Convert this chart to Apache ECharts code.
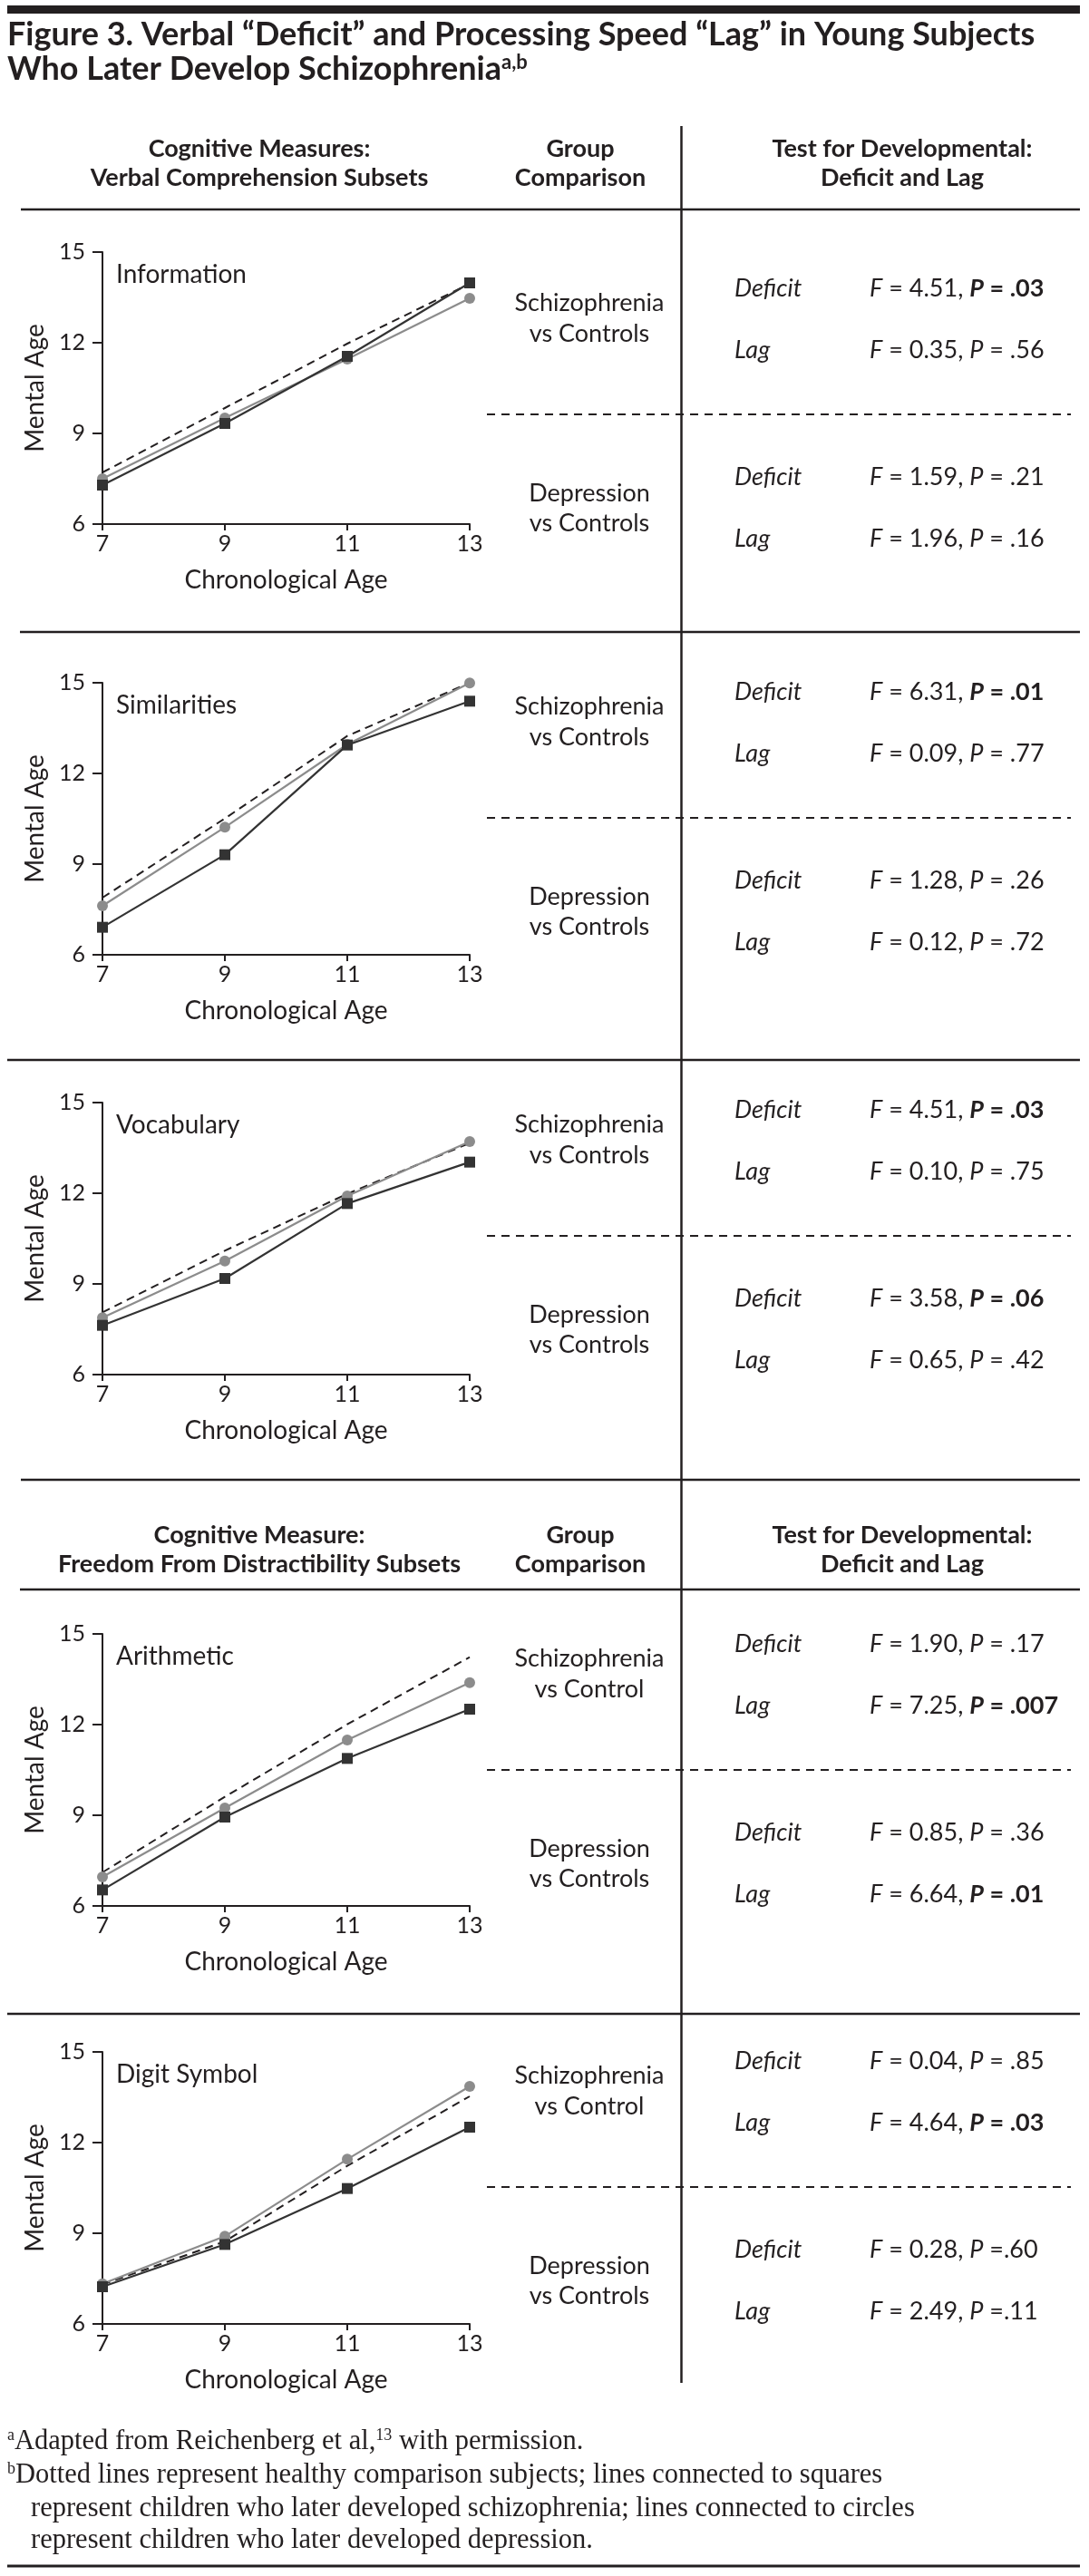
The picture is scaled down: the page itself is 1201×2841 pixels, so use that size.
<!DOCTYPE html>
<html><head><meta charset="utf-8">
<script src="https://cdn.jsdelivr.net/npm/echarts@6/dist/echarts.min.js"></script>
<style>html,body{margin:0;padding:0;background:#fff}#c{width:1201px;height:2841px}</style>
</head><body><div id="c"></div>
<script>
// ---------- data ----------
const ages = [7, 9, 11, 13];
const yTicks = [6, 9, 12, 15];
const measures = ['Information', 'Similarities', 'Vocabulary', 'Arithmetic', 'Digit Symbol'];
const schizophreniaValues = [
  [7.29, 9.33, 11.55, 13.98],
  [6.91, 9.31, 12.94, 14.39],
  [7.63, 9.18, 11.66, 13.03],
  [6.53, 8.94, 10.88, 12.51],
  [7.23, 8.63, 10.48, 12.51]
];
const depressionValues = [
  [7.50, 9.51, 11.46, 13.47],
  [7.62, 10.22, 12.96, 14.99],
  [7.88, 9.76, 11.91, 13.71],
  [6.96, 9.24, 11.49, 13.39],
  [7.33, 8.90, 11.45, 13.86]
];
const controlValues = [
  [7.71, 9.84, 11.97, 13.95],
  [7.89, 10.51, 13.24, 15.00],
  [8.06, 10.10, 11.98, 13.66],
  [7.11, 9.61, 12.01, 14.23],
  [7.30, 8.73, 11.23, 13.53]
];
const schizComparison = ['Schizophrenia\nvs Controls', 'Schizophrenia\nvs Controls', 'Schizophrenia\nvs Controls', 'Schizophrenia\nvs Control', 'Schizophrenia\nvs Control'];
const deprComparison = ['Depression\nvs Controls', 'Depression\nvs Controls', 'Depression\nvs Controls', 'Depression\nvs Controls', 'Depression\nvs Controls'];
const schizDeficitF = ['4.51', '6.31', '4.51', '1.90', '0.04'];
const schizDeficitP = ['.03', '.01', '.03', '.17', '.85'];
const schizLagF = ['0.35', '0.09', '0.10', '7.25', '4.64'];
const schizLagP = ['.56', '.77', '.75', '.007', '.03'];
const deprDeficitF = ['1.59', '1.28', '3.58', '0.85', '0.28'];
const deprDeficitP = ['.21', '.26', '.06', '.36', '.60'];
const deprLagF = ['1.96', '0.12', '0.65', '6.64', '2.49'];
const deprLagP = ['.16', '.72', '.42', '.01', '.11'];
const pEquals = [' = ', ' = ', ' = ', ' = ', ' ='];
const titleLines = ['Figure 3. Verbal \u201cDeficit\u201d and Processing Speed \u201cLag\u201d in Young Subjects', 'Who Later Develop Schizophrenia'];
const headerBlocks = [
  ['Cognitive Measures:', 'Verbal Comprehension Subsets'],
  ['Cognitive Measure:', 'Freedom From Distractibility Subsets']
];
const groupHeader = ['Group', 'Comparison'];
const testHeader = ['Test for Developmental:', 'Deficit and Lag'];

// ---------- layout ----------
const SANS = 'Lato';
const INK = '#231f20';
const gridTop = [278, 753, 1216, 1802, 2263];
const dashY = [457, 902, 1363, 1952, 2412];
const ruleLines = [[231, 23], [697, 22], [1169, 8], [1632, 23], [1753, 22], [2221, 8]];
const headerBase = [173, 1702];

const chart = echarts.init(document.getElementById('c'), null, {renderer: 'canvas'});
const graphics = [];
function text(x, base, str, size, opt) {
  opt = opt || {};
  graphics.push({
    type: 'text', z: 10,
    style: Object.assign({
      x: x, y: base - 0.33 * size, text: str,
      fontFamily: opt.family || SANS, fontSize: size,
      fontWeight: opt.weight || 'normal', fontStyle: opt.style || 'normal',
      fill: INK, align: opt.align || 'left', verticalAlign: 'middle'
    }, opt.extra || {})
  });
}
function hline(y, x0, x1, w, dash) {
  graphics.push({type: 'line', z: 5, shape: {x1: x0, y1: y, x2: x1, y2: y},
    style: {stroke: INK, lineWidth: w, lineDash: dash || null}});
}

// top bar
graphics.push({type: 'rect', shape: {x: 8, y: 6, width: 1183, height: 9}, style: {fill: INK}});
// title
const TS = 36;
text(8, 50, titleLines[0], TS, {weight: 'bold'});
graphics.push({type: 'text', z: 10, style: {
  x: 8, y: 88 - 0.33 * TS, verticalAlign: 'middle', fill: INK,
  text: titleLines[1] + '{sup|a,b}', fontFamily: SANS, fontSize: TS, fontWeight: 'bold',
  rich: {sup: {fontSize: 22, fontWeight: 'bold', fontFamily: SANS, fill: INK, verticalAlign: 'top', lineHeight: TS}}
}});
// headers
headerBlocks.forEach(function (blk, k) {
  const b = headerBase[k];
  text(286, b, blk[0], 27, {weight: 'bold', align: 'center'});
  text(286, b + 32, blk[1], 27, {weight: 'bold', align: 'center'});
  text(640, b, groupHeader[0], 27, {weight: 'bold', align: 'center'});
  text(640, b + 32, groupHeader[1], 27, {weight: 'bold', align: 'center'});
  text(995, b, testHeader[0], 27, {weight: 'bold', align: 'center'});
  text(995, b + 32, testHeader[1], 27, {weight: 'bold', align: 'center'});
});
// rules
ruleLines.forEach(function (r) { hline(r[0], r[1], 1191, 2.5); });
// vertical divider
graphics.push({type: 'line', z: 5, shape: {x1: 751.5, y1: 139, x2: 751.5, y2: 2628}, style: {stroke: INK, lineWidth: 2.5}});
// bottom rule
hline(2830, 8, 1191, 3);

function stat(x, base, f, p, sep) {
  const bold = parseFloat(p) < 0.1;
  const str = '{i|F} = ' + f + ', ' + (bold ? '{bi|P}{b|' + sep + p + '}' : '{i|P}' + sep + p);
  graphics.push({type: 'text', z: 10, style: {
    x: x, y: base - 0.33 * 27, verticalAlign: 'middle', fill: INK, text: str,
    fontFamily: SANS, fontSize: 27,
    rich: {
      i: {fontStyle: 'italic', fontFamily: SANS, fontSize: 27, fill: INK},
      bi: {fontStyle: 'italic', fontWeight: 'bold', fontFamily: SANS, fontSize: 27, fill: INK},
      b: {fontWeight: 'bold', fontFamily: SANS, fontSize: 27, fill: INK}
    }
  }});
}

measures.forEach(function (m, i) {
  const d = dashY[i];
  hline(d, 537, 1181, 2, [9, 7]);
  // measure label
  text(128, gridTop[i] + 34, m, 28);
  // group labels
  const s = schizComparison[i].split('\n');
  text(650, d - 114, s[0], 27, {align: 'center'});
  text(650, d - 80, s[1], 27, {align: 'center'});
  const dp = deprComparison[i].split('\n');
  text(650, d + 96, dp[0], 27, {align: 'center'});
  text(650, d + 129, dp[1], 27, {align: 'center'});
  text(810, d - 130, 'Deficit', 27, {style: 'italic'});
  text(810, d - 62, 'Lag', 27, {style: 'italic'});
  text(810, d + 78, 'Deficit', 27, {style: 'italic'});
  text(810, d + 146, 'Lag', 27, {style: 'italic'});
  stat(959, d - 130, schizDeficitF[i], schizDeficitP[i], ' = ');
  stat(959, d - 62, schizLagF[i], schizLagP[i], ' = ');
  stat(959, d + 78, deprDeficitF[i], deprDeficitP[i], pEquals[i]);
  stat(959, d + 146, deprLagF[i], deprLagP[i], pEquals[i]);
});

// footnotes
const SERIF = 'Liberation Serif';
const FS = 30.5;
const fnRich = {sup: {fontSize: 18, fontFamily: SERIF, fill: INK, verticalAlign: 'top', lineHeight: FS}};
function fn(x, base, str) {
  graphics.push({type: 'text', z: 10, style: {
    x: x, y: base - 0.33 * FS, verticalAlign: 'middle', fill: INK, text: str,
    fontFamily: SERIF, fontSize: FS, rich: fnRich}});
}
fn(8, 2703, '{sup|a}Adapted from Reichenberg et al,{sup|13} with permission.');
fn(8, 2740, '{sup|b}Dotted lines represent healthy comparison subjects; lines connected to squares');
fn(34, 2777, 'represent children who later developed schizophrenia; lines connected to circles');
fn(34, 2812, 'represent children who later developed depression.');

// ---------- charts ----------
const axisLine = {show: true, lineStyle: {color: INK, width: 2}};
const grids = [], xAxes = [], yAxes = [], series = [];
measures.forEach(function (m, i) {
  grids.push({left: 113, top: gridTop[i], width: 405, height: 300});
  xAxes.push({gridIndex: i, type: 'value', min: ages[0], max: ages[ages.length - 1], interval: 2,
    axisLine: axisLine, axisTick: {show: true, length: 7, lineStyle: {color: INK, width: 2}},
    splitLine: {show: false},
    axisLabel: {fontFamily: SANS, fontSize: 25, color: INK, margin: 9},
    name: 'Chronological Age', nameLocation: 'middle', nameGap: 48,
    nameTextStyle: {fontFamily: SANS, fontSize: 28, color: INK}});
  yAxes.push({gridIndex: i, type: 'value', min: yTicks[0], max: yTicks[yTicks.length - 1], interval: 3,
    axisLine: axisLine, axisTick: {show: true, length: 11, lineStyle: {color: INK, width: 2}},
    splitLine: {show: false},
    axisLabel: {fontFamily: SANS, fontSize: 25, color: INK, margin: 19},
    name: 'Mental Age', nameLocation: 'middle', nameGap: 60,
    nameTextStyle: {fontFamily: SANS, fontSize: 28, color: INK}});
  const pairs = function (arr) { return ages.map(function (a, j) { return [a, arr[j]]; }); };
  series.push({type: 'line', name: 'Controls', xAxisIndex: i, yAxisIndex: i, data: pairs(controlValues[i]),
    showSymbol: false, symbol: 'none', lineStyle: {color: INK, width: 2, type: [9, 6]}, z: 2, animation: false});
  series.push({type: 'line', name: 'Depression', xAxisIndex: i, yAxisIndex: i, data: pairs(depressionValues[i]),
    symbol: 'circle', symbolSize: 12, lineStyle: {color: '#8c8c8c', width: 2.2}, itemStyle: {color: '#8c8c8c'}, z: 3, animation: false});
  series.push({type: 'line', name: 'Schizophrenia', xAxisIndex: i, yAxisIndex: i, data: pairs(schizophreniaValues[i]),
    symbol: 'rect', symbolSize: 12, lineStyle: {color: '#333333', width: 2.2}, itemStyle: {color: '#333333'}, z: 4, animation: false});
});

chart.setOption({
  backgroundColor: '#ffffff',
  animation: false,
  grid: grids, xAxis: xAxes, yAxis: yAxes, series: series,
  graphic: graphics
});
</script>
</body></html>
